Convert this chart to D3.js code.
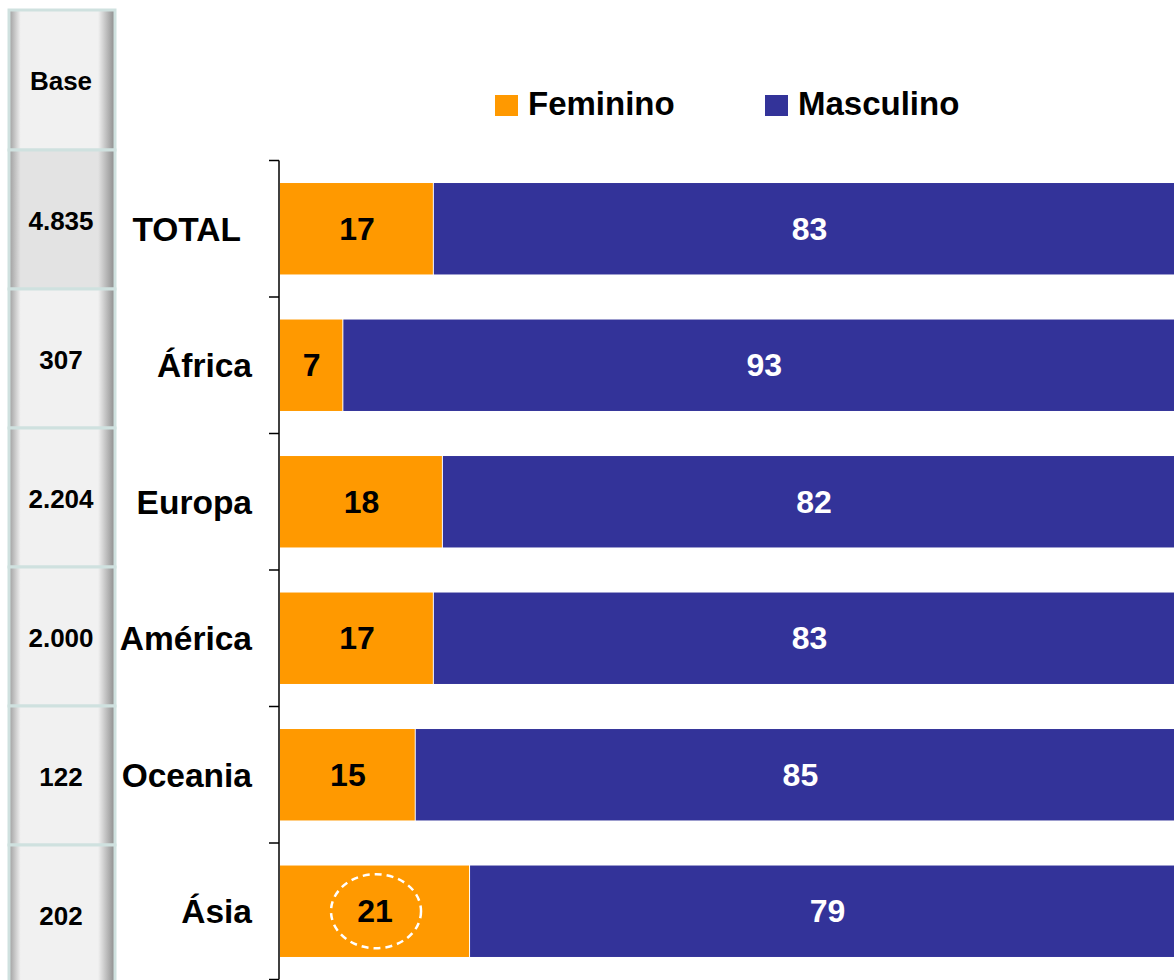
<!DOCTYPE html>
<html lang="pt">
<head>
<meta charset="UTF-8">
<title>Feminino / Masculino por região</title>
<style>
  body{margin:0;background:#fff;}
  svg{display:block;font-family:"Liberation Sans",Arial,sans-serif;font-weight:bold;}
</style>
</head>
<body>
<svg width="1174" height="980"></svg>
<script src="https://cdn.jsdelivr.net/npm/d3@7/dist/d3.min.js"></script>
<script>
  // dados
  var categories = ['TOTAL', 'África', 'Europa', 'América', 'Oceania', 'Ásia'];
  var bases = ['4.835', '307', '2.204', '2.000', '122', '202'];
  var feminino = [17, 7, 18, 17, 15, 21];
  var masculino = [83, 93, 82, 83, 85, 79];
  var seriesNames = ['Feminino', 'Masculino'];
  var colors = ['#FF9900', '#333399'];

  var svg = d3.select('svg');
  var x0 = 279, y0 = 160.5, y1 = 979.5;

  var x = d3.scaleLinear().domain([0, 100]).range([x0, x0 + 905]);
  var y = d3.scaleBand().domain(categories).range([y0, y1]).paddingInner(0.33).paddingOuter(0.165);
  var yTicks = d3.scaleBand().domain(categories).range([y0, y1]);
  // a coluna Base tem o seu próprio passo
  var yBase = d3.scaleBand().domain(categories).range([150, 984]);

  // gradiente das caixas "Base"
  var defs = svg.append('defs');
  function grad(id, mid) {
    var g = defs.append('linearGradient').attr('id', id).attr('x1', 0).attr('x2', 1).attr('y1', 0).attr('y2', 0);
    g.append('stop').attr('offset', '0%').attr('stop-color', '#9c9c9c');
    g.append('stop').attr('offset', '11%').attr('stop-color', mid);
    g.append('stop').attr('offset', '84%').attr('stop-color', mid);
    g.append('stop').attr('offset', '100%').attr('stop-color', '#8a8a8a');
  }
  grad('gBase', '#f1f1f1');
  grad('gTotal', '#e3e3e3');

  // coluna Base
  var boxX = 9, boxW = 106;
  var boxes = [{label: 'Base', top: 10, bottom: 150, fill: 'url(#gBase)'}];
  categories.forEach(function (c, i) {
    boxes.push({label: bases[i], top: yBase(c), bottom: yBase(c) + yBase.bandwidth(),
      fill: i === 0 ? 'url(#gTotal)' : 'url(#gBase)'});
  });
  var bg = svg.append('g');
  bg.selectAll('rect').data(boxes).enter().append('rect')
    .attr('x', boxX).attr('y', function (d) { return d.top; })
    .attr('width', boxW).attr('height', function (d) { return d.bottom - d.top; })
    .attr('fill', function (d) { return d.fill; })
    .attr('stroke', '#cfe1df').attr('stroke-width', 3);
  bg.selectAll('text').data(boxes).enter().append('text')
    .attr('x', boxX + boxW / 2 - 1)
    .attr('y', function (d) { return (d.top + d.bottom) / 2 + 10; })
    .attr('text-anchor', 'middle')
    .attr('font-size', 26)
    .attr('fill', '#000')
    .text(function (d) { return d.label; });

  // eixo vertical
  var axG = svg.append('g').attr('transform', 'translate(' + x0 + ',0)');
  var tickYs = categories.map(function (c) { return yTicks(c); }).concat([y1]);
  axG.selectAll('line.tk').data(tickYs).enter().append('line')
    .attr('x1', -10).attr('x2', 0)
    .attr('y1', function (d) { return d; }).attr('y2', function (d) { return d; })
    .attr('stroke', '#000').attr('stroke-width', 1.5);
  axG.append('line').attr('x1', 0).attr('x2', 0).attr('y1', y0).attr('y2', y1)
    .attr('stroke', '#000').attr('stroke-width', 1.5);

  // rótulos das categorias
  svg.append('g').selectAll('text').data(categories).enter().append('text')
    .attr('x', function (d, i) { return i === 0 ? 241 : 252; })
    .attr('y', function (d) { return y(d) + y.bandwidth() / 2 + 12; })
    .attr('text-anchor', 'end')
    .attr('font-size', 33.5)
    .text(function (d) { return d; });

  // barras empilhadas
  var rows = categories.map(function (c, i) { return {cat: c, Feminino: feminino[i], Masculino: masculino[i]}; });
  var stacked = d3.stack().keys(seriesNames)(rows);
  var layers = svg.append('g').selectAll('g').data(stacked).enter().append('g')
    .attr('fill', function (d, i) { return colors[i]; });
  layers.selectAll('rect').data(function (d) { return d; }).enter().append('rect')
    .attr('x', function (d) { return x(d[0]) + 1; })
    .attr('y', function (d) { return y(d.data.cat); })
    .attr('width', function (d) { return x(d[1]) - x(d[0]) - (d[0] === 0 ? 1 : 0); })
    .attr('height', y.bandwidth());
  layers.selectAll('text').data(function (d) { return d; }).enter().append('text')
    .attr('x', function (d) { return (x(d[0]) + x(d[1])) / 2 + 1; })
    .attr('y', function (d) { return y(d.data.cat) + y.bandwidth() / 2 + 11; })
    .attr('text-anchor', 'middle')
    .attr('font-size', 32)
    .attr('fill', function (d) { return d[0] === 0 ? '#000' : '#fff'; })
    .text(function (d) { return d[1] - d[0]; });

  // destaque Ásia
  var asia = stacked[0][5];
  svg.append('ellipse')
    .attr('cx', (x(asia[0]) + x(asia[1])) / 2 + 2)
    .attr('cy', y('Ásia') + y.bandwidth() / 2)
    .attr('rx', 45).attr('ry', 37)
    .attr('fill', 'none').attr('stroke', '#fff').attr('stroke-width', 2.5)
    .attr('stroke-dasharray', '7,5');

  // legenda
  var legX = [495, 765];
  var leg = svg.append('g').selectAll('g').data(seriesNames).enter().append('g')
    .attr('transform', function (d, i) { return 'translate(' + legX[i] + ',95)'; });
  leg.append('rect').attr('width', 23).attr('height', 21).attr('fill', function (d, i) { return colors[i]; });
  leg.append('text').attr('x', 33).attr('y', 20).attr('font-size', 33).text(function (d) { return d; });
</script>
</body>
</html>
